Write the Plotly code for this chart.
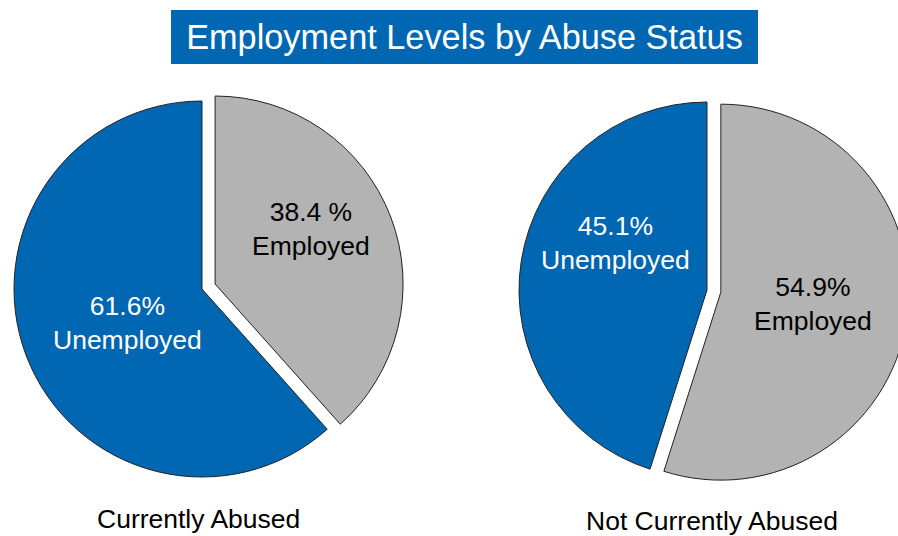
import plotly.graph_objects as go

# Figure size in pixels
W, H = 910, 536

# Data
groups = ["Currently Abused", "Not Currently Abused"]
statuses = ["Employed", "Unemployed"]
employed_pct = [38.4, 54.9]
unemployed_pct = [61.6, 45.1]
value_formats = ["{:.1f} %", "{:.1f}%"]  # employed label style per group

BLUE = "#0167B3"
GREY = "#B3B3B3"
FONT = "Liberation Sans, Arial, sans-serif"

PULL = 0.0745

# Pie boxes (pixel geometry of each pie's domain)
pie_boxes = [
    dict(cx=202, cy=289, size=404),
    dict(cx=707, cy=290, size=404),
]


def px_x(x):
    return x / W


def px_y(y):
    return 1 - y / H


fig = go.Figure()

for i, box in enumerate(pie_boxes):
    half = box["size"] / 2
    fig.add_trace(go.Pie(
        labels=statuses,
        values=[employed_pct[i], unemployed_pct[i]],
        sort=False,
        direction="clockwise",
        rotation=0,
        pull=[PULL, 0],
        marker=dict(colors=[GREY, BLUE], line=dict(color="#222222", width=1)),
        textinfo="none",
        hoverinfo="label+percent",
        showlegend=False,
        domain=dict(
            x=[px_x(box["cx"] - half), px_x(box["cx"] + half)],
            y=[px_y(box["cy"] + half), px_y(box["cy"] - half)],
        ),
    ))

# Slice labels: (group index, status, centre in px, text colour)
label_specs = [
    (0, "Unemployed", (127, 323), "white"),
    (0, "Employed", (311, 229), "black"),
    (1, "Unemployed", (615, 243), "white"),
    (1, "Employed", (813, 304), "black"),
]

annotations = []
for gi, status, (lx, ly), color in label_specs:
    if status == "Employed":
        pct = value_formats[gi].format(employed_pct[gi])
    else:
        pct = "{:.1f}%".format(unemployed_pct[gi])
    annotations.append(dict(
        text=f"{pct}<br>{status}",
        x=px_x(lx), y=px_y(ly), xref="paper", yref="paper",
        xanchor="center", yanchor="middle", showarrow=False,
        font=dict(family=FONT, size=26.5, color=color),
    ))

# Group captions under each pie
caption_pos = [(198, 519), (712, 521)]
for name, (cx, cy) in zip(groups, caption_pos):
    annotations.append(dict(
        text=name, x=px_x(cx), y=px_y(cy), xref="paper", yref="paper",
        xanchor="center", yanchor="middle", showarrow=False,
        font=dict(family=FONT, size=26.5, color="black"),
    ))

# Title banner
annotations.append(dict(
    text="Employment Levels by Abuse Status",
    x=px_x(464.5), y=px_y(37), xref="paper", yref="paper",
    xanchor="center", yanchor="middle", showarrow=False,
    width=587, height=54, bgcolor=BLUE, borderpad=0, borderwidth=0,
    font=dict(family=FONT, size=34.3, color="white"),
))

fig.update_layout(
    width=W, height=H,
    margin=dict(l=0, r=0, t=0, b=0),
    paper_bgcolor="white",
    plot_bgcolor="white",
    annotations=annotations,
)

fig.write_html("out.html")
